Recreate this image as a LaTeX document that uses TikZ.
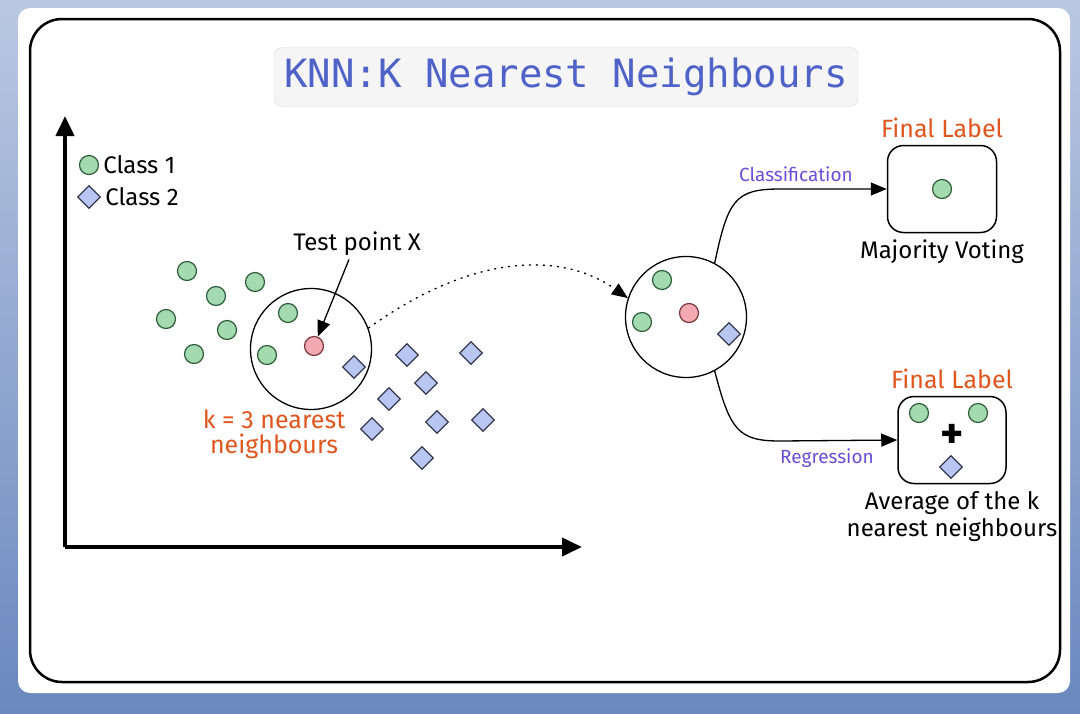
\documentclass[tikz,border=0pt]{standalone}
\usepackage{fontspec}
\setmainfont{Fira Sans}
\newfontfamily\titlefont{DejaVu Sans Mono}
\usetikzlibrary{shapes,arrows.meta}
\usetikzlibrary{positioning}
\definecolor{bgtop}{HTML}{BAC8E2}
\definecolor{bgbot}{HTML}{6A88BF}
\definecolor{ttl}{HTML}{4E62C8}
\definecolor{orng}{HTML}{E0561E}
\definecolor{purp}{HTML}{6A4FD6}
\definecolor{gfill}{HTML}{A4DAAF}
\definecolor{gline}{HTML}{2F5E3A}
\definecolor{bfill}{HTML}{BAC6F2}
\definecolor{bline}{HTML}{34394F}
\definecolor{rfill}{HTML}{F2A9B1}
\definecolor{rline}{HTML}{7E3840}

\begin{document}
\begin{tikzpicture}[x=1pt,y=-1pt,node distance=3pt,>={Triangle[length=16pt,width=13pt]},
  hand/.style={font=\fontsize{24}{27}\selectfont},
  orlbl/.style={font=\fontsize{25}{25}\selectfont,text=orng},
  arclbl/.style={font=\fontsize{19}{21}\selectfont,text=purp},
  gpt/.style={circle,draw=gline,line width=1.2,fill=gfill,minimum size=19,inner sep=0},
  rpt/.style={circle,draw=rline,line width=1.2,fill=rfill,minimum size=19,inner sep=0},
  bpt/.style={diamond,draw=bline,line width=1.2,fill=bfill,minimum size=23,inner sep=0},
  lblbox/.style={draw,line width=1.5,rounded corners=16,inner sep=0}]
%\draw[help lines,step=50] (0,0) grid (1080,713);
\useasboundingbox (0,0) rectangle (1080,713);
\shade[top color=bgtop,bottom color=bgbot] (0,0) rectangle (1080,713);
\fill[white,rounded corners=12] (18,8) rectangle (1070,693);
\draw[line width=2.5,rounded corners=32] (30,19) rectangle (1060,682);
\path node[draw=black!15,fill=black!4,rounded corners=8,minimum width=584,minimum height=59,text=ttl,font=\titlefont\fontsize{39}{41}\selectfont] (title) at (566,77) {KNN:K Nearest Neighbours};
% axes
\coordinate (org) at (65,547);
\coordinate (ytop) at (65,116);
\coordinate (xend) at (582,547);
\draw[->,line width=4,>={Triangle[length=20pt,width=18pt]}] (org) -- (ytop);
\draw[->,line width=4,>={Triangle[length=20pt,width=18pt]}] (org) -- (xend);
% legend
\path node[gpt] (lg1) at (89,165) {};
\path node[hand,right=3pt of lg1,inner sep=1pt] (lt1) {Class 1};
\path node[bpt] (lg2) at (89,197) {};
\path node[hand,right=3pt of lg2,inner sep=1pt] (lt2) {Class 2};
% class 1 points
\path node[gpt] (g1) at (187,271) {};
\path node[gpt] (g2) at (216,296) {};
\path node[gpt] (g3) at (255,282) {};
\path node[gpt] (g4) at (166,319) {};
\path node[gpt] (g5) at (227,330) {};
\path node[gpt] (g6) at (194,354) {};
\path node[gpt] (g7) at (288,313) {};
\path node[gpt] (g8) at (267,355) {};
% class 2 points
\path node[bpt] (b1) at (354,367) {};
\path node[bpt] (b2) at (407,355) {};
\path node[bpt] (b3) at (471,353) {};
\path node[bpt] (b4) at (426,383) {};
\path node[bpt] (b5) at (389,399) {};
\path node[bpt] (b6) at (372,429) {};
\path node[bpt] (b7) at (437,422) {};
\path node[bpt] (b8) at (483,420) {};
\path node[bpt] (b9) at (422,458) {};
% test point
\path node[circle,draw,line width=1.3,minimum size=121] (knn) at (311,349) {};
\path node[rpt] (x) at (314,346) {};
\path node[hand] (tp) at (357,244) {Test point X};
\path[->,draw,line width=1.3] ([xshift=-8]tp.south) -- (x);
\path node[orlbl,align=center] (k3) at (274,434) {k = 3 nearest\\neighbours};
% neighbours
\path node[circle,draw,line width=1.3,minimum size=121] (nb) at (686,317) {};
\path node[gpt] (n1) at (662,280) {};
\path node[gpt] (n2) at (642,322) {};
\path node[rpt] (n3) at (689,313) {};
\path node[bpt] (n4) at (729,334) {};
\path[->,draw,line width=1.3,dash pattern=on 2pt off 5pt] (knn.20) .. controls (470,255) and (560,250) .. (nb.162);
% results
\path node[lblbox,minimum width=109,minimum height=87] (cls) at (942,189) {};
\path node[gpt] (c1) at (cls) {};
\path node[orlbl,above=of cls] (fl1) {Final Label};
\path node[hand,below=3pt of cls] (mv) {Majority Voting};
\path node[lblbox,minimum width=108,minimum height=87] (reg) at (952,440) {};
\path node[gpt] (r1) at (919,413) {};
\path node[gpt] (r2) at (978,413) {};
\path node[bpt] (r3) at (951,467) {};
\path node[font=\bfseries\fontsize{44}{44}\selectfont] (pl) at (952,436) {+};
\path node[orlbl,above=of reg] (fl2) {Final Label};
\path node[hand,below=4pt of reg,align=center] (avg) {Average of the k\\nearest neighbours};
\path[->,draw,line width=1.3] (nb.62) .. controls (728,200) and (735,189) .. (780,189) -- node[arclbl,above,pos=0.15,yshift=3pt] {Classification} (cls.west);
\path[->,draw,line width=1.3] (nb.-62) .. controls (730,430) and (738,441) .. (780,441) -- node[arclbl,below,pos=0.4,yshift=-4pt] {Regression} (reg.west);
\end{tikzpicture}
\end{document}
